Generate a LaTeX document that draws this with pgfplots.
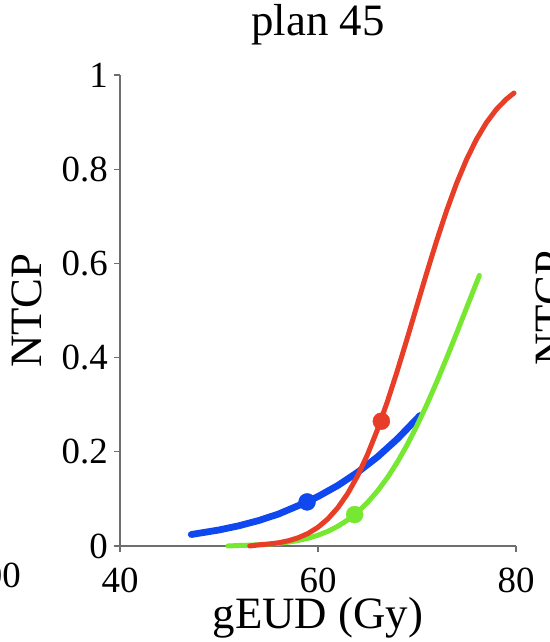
\documentclass[border=0pt]{standalone}
\usepackage{pgfplots}
\pgfplotsset{compat=1.18}
\usepackage{fontspec}
\setmainfont{Liberation Serif}
\definecolor{ntblue}{RGB}{16,72,240}
\definecolor{ntred}{RGB}{232,62,40}
\definecolor{ntgreen}{RGB}{118,232,50}
\definecolor{axgray}{RGB}{110,110,110}

\begin{document}
\begin{tikzpicture}[x=1bp,y=1bp]
\useasboundingbox (0,0) rectangle (550,642);
\clip (0,0) rectangle (550,642);
% pieces of the neighbouring panels
\node[anchor=base east, inner sep=0pt, font=\fontsize{37}{40}\selectfont] at (21,54) {100};
\node[rotate=90, inner sep=0pt, font=\fontsize{45}{50}\selectfont] at (551,334) {NTCP};
\begin{axis}[
    at={(120bp,96bp)}, anchor=south west,
    scale only axis, width=396bp, height=471bp,
    xmin=40, xmax=80, ymin=0, ymax=1,
    axis x line*=bottom, axis y line*=left,
    axis line style={axgray, line width=1.4bp},
    xtick={40,60,80}, ytick={0,0.2,0.4,0.6,0.8,1},
    tick align=outside, major tick length=6bp,
    tick style={axgray, line width=1.2bp},
    /pgf/number format/assume math mode=true,
    ticklabel style={font=\fontsize{37}{40}\selectfont, inner sep=0pt},
    xticklabel style={anchor=base, yshift=-40bp},
    yticklabel style={anchor=east, xshift=-6bp},
    title={plan 45},
    title style={at={(0.5,1.0701)}, anchor=base, inner sep=0pt, font=\fontsize{45}{50}\selectfont},
    xlabel={gEUD (Gy)},
    xlabel style={at={(0.5,-0.1741)}, anchor=base, inner sep=0pt, font=\fontsize{45}{50}\selectfont},
    ylabel={NTCP},
    ylabel style={at={(-0.2348,0.5)}, anchor=center, inner sep=0pt, font=\fontsize{45}{50}\selectfont},
    clip=false,
]
% blue
\addplot[ntblue, line width=6.8bp, line cap=round] coordinates {
(47.2,0.0244) (50,0.034) (52,0.0429) (54,0.054) (56,0.0678) (58.9,0.0936)
(60,0.105) (62,0.1285) (64,0.1565) (66,0.189) (68,0.227) (70.3,0.277)};
% green
\addplot[ntgreen, line width=5bp, line cap=round] coordinates {
(50.9,0.0) (52,0.0011) (53,0.0017) (54,0.0025) (55,0.0038) (56,0.0057) (57,0.0082)
(58,0.0118) (59,0.0165) (60,0.0229) (61,0.0312) (62,0.0419) (63,0.0554)
(64,0.0720) (65,0.0923) (66,0.1165) (67,0.1448) (68,0.1775) (69,0.2145)
(70,0.2556) (71,0.3005) (72,0.3487) (73,0.3994) (74,0.4518) (75,0.5052)
(76,0.5584) (76.3,0.5744)};
% red
\addplot[ntred, line width=5bp, line cap=round] coordinates {
(53.1,0.0) (54,0.0024) (55,0.0041) (56,0.0068) (57,0.0111) (58,0.0175)
(59,0.0267) (60,0.0398) (61,0.0576) (62,0.0812) (63,0.1114) (64,0.1489)
(65,0.1941) (66,0.2467) (67,0.3061) (68,0.3711) (69,0.4400) (70,0.5108)
(71,0.5812) (72,0.6491) (73,0.7126) (74,0.7701) (75,0.8204) (76,0.8632)
(77,0.8985) (78,0.9266) (79,0.9483) (79.8,0.9617)};
% operating points
\addplot[only marks, mark=*, mark size=8.5bp, ntblue] coordinates {(58.9,0.0936)};
\addplot[only marks, mark=*, mark size=8.5bp, ntgreen] coordinates {(63.7,0.0667)};
\addplot[only marks, mark=*, mark size=8.5bp, ntred] coordinates {(66.4,0.265)};
\end{axis}
\end{tikzpicture}
\end{document}
